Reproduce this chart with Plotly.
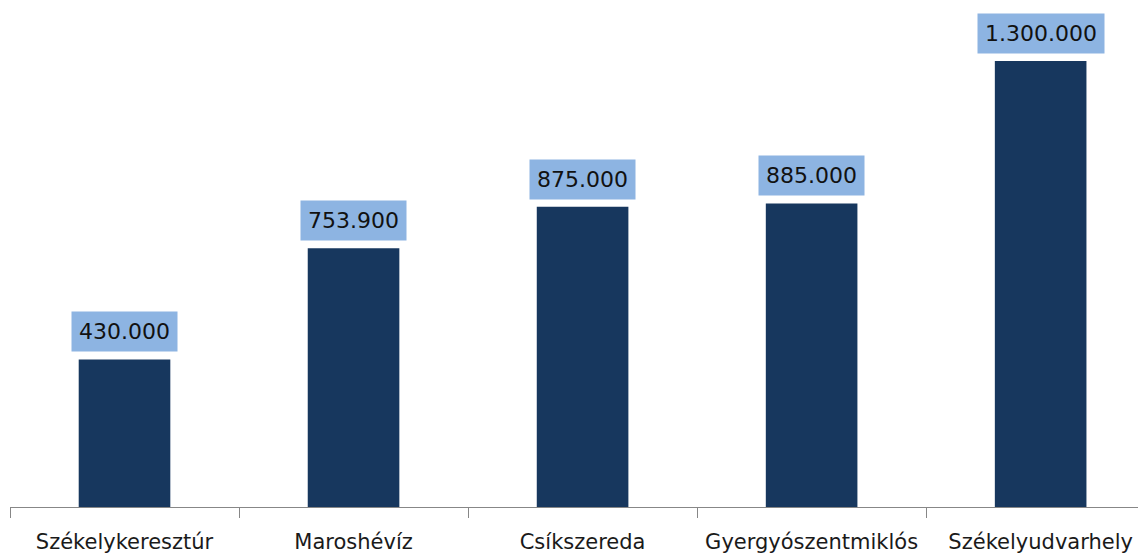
import plotly.graph_objects as go

categories = ["Székelykeresztúr", "Maroshévíz", "Csíkszereda", "Gyergyószentmiklós", "Székelyudvarhely"]
values = [430000, 753900, 875000, 885000, 1300000]
labels = ["430.000", "753.900", "875.000", "885.000", "1.300.000"]

fig = go.Figure()
fig.add_trace(go.Bar(x=categories, y=values, marker=dict(color="#17375E", line=dict(width=0)),
                     hoverinfo="skip"))

for c, v, t in zip(categories, values, labels):
    fig.add_annotation(x=c, y=v, text=t, showarrow=False, yanchor="bottom", yshift=7,
                       bgcolor="#8DB4E2", borderpad=7,
                       font=dict(family="DejaVu Sans", size=22, color="#111111"))

fig.update_layout(
    width=1146, height=557,
    margin=dict(l=2, r=8, t=0, b=58),
    paper_bgcolor="white", plot_bgcolor="white",
    bargap=0.6, showlegend=False,
    font=dict(family="DejaVu Sans"),
)
fig.update_xaxes(range=[-0.5, 4.46], showline=True, linecolor="#878787", linewidth=1,
                 ticks="outside", tickson="boundaries", ticklen=10, tickcolor="#878787",
                 ticklabelstandoff=16,
                 tickfont=dict(family="DejaVu Sans", size=21, color="#1a1a1a"), showgrid=False)
fig.update_yaxes(range=[0, 1454500], visible=False, showgrid=False)

fig.write_html("out.html")
